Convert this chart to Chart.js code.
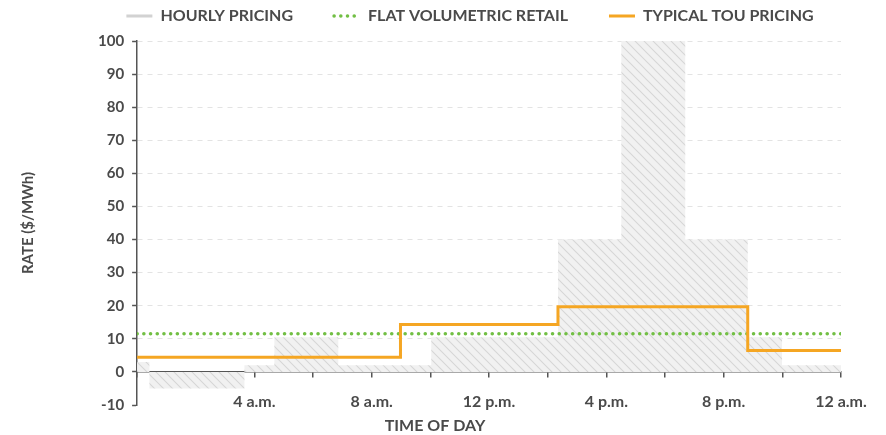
<!DOCTYPE html>
<html>
<head>
<meta charset="utf-8">
<script src="https://cdn.jsdelivr.net/npm/chart.js@4/dist/chart.umd.min.js"></script>
<style>
  html, body { margin: 0; padding: 0; background: #ffffff; }
  #wrap { width: 886px; height: 435px; }
</style>
</head>
<body>
<div id="wrap"><canvas id="c" width="886" height="435"></canvas></div>
<script>
// ---- data ----
const seriesNames = ['HOURLY PRICING', 'FLAT VOLUMETRIC RETAIL', 'TYPICAL TOU PRICING'];
// hourly pricing: each value holds from its start hour until the next start hour
const hourlyStart = [0, 0.42, 3.66, 4.68, 6.86, 10.03, 14.35, 16.51, 18.69, 20.82, 21.99, 24];
const hourlyRate  = [3, -5, 2, 10.5, 2, 10.5, 40, 100, 40, 10.5, 2, 2];
// flat volumetric retail rate
const flatStart = [0, 24];
const flatRate  = [11.5, 11.5];
// typical time-of-use pricing
const touStart = [0, 8.98, 14.35, 20.82, 24];
const touRate  = [4.4, 14.3, 19.7, 6.5, 6.5];
// axis ticks
const xTickHours  = [0, 4, 8, 12, 16, 20, 24];
const xTickLabels = ['', '4 a.m.', '8 a.m.', '12 p.m.', '4 p.m.', '8 p.m.', '12 a.m.'];
const xTitle = 'TIME OF DAY';
const yTitle = 'RATE ($/MWh)';

const FONT = 'Lato';
const TEXT = '#4a4a4a';
const AXIS = '#555555';

const canvas = document.getElementById('c');
const ctx = canvas.getContext('2d');

function makeHatch() {
  const s = 9;
  const c = document.createElement('canvas');
  c.width = s; c.height = s;
  const g = c.getContext('2d');
  g.fillStyle = '#f1f1f1';
  g.fillRect(0, 0, s, s);
  g.strokeStyle = '#d6d6d6';
  g.lineWidth = 1.1;
  g.beginPath();
  g.moveTo(-1, -1); g.lineTo(s + 1, s + 1);
  g.moveTo(-1, s - 1); g.lineTo(1, s + 1);
  g.moveTo(s - 1, -1); g.lineTo(s + 1, 1);
  g.stroke();
  return ctx.createPattern(c, 'repeat');
}

const pts = (xs, ys) => xs.map((x, i) => ({ x: x, y: ys[i] }));

const swatches = [
  { color: '#d2d2d2', width: 3, dash: [], cap: 'butt' },
  { color: '#72bf44', width: 3.5, dash: [0.1, 6.6], cap: 'round' },
  { color: '#f5a623', width: 3, dash: [], cap: 'butt' }
];

// centre the legend and the bottom title where the reference has them
const shiftPlugin = {
  id: 'shiftBoxes',
  afterUpdate(chart) {
    const lg = chart.legend;
    if (lg) {
      const d = 470 - (lg.left + lg.right) / 2;
      lg.left += d; lg.right += d; lg.top -= 33;
    }
    const t = chart.titleBlock;
    if (t) {
      const d = 435 - (t.left + t.right) / 2;
      t.left += d; t.right += d;
    }
  }
};

new Chart(ctx, {
  type: 'line',
  data: {
    datasets: [
      {
        label: seriesNames[0],
        data: pts(hourlyStart, hourlyRate),
        stepped: 'before',
        fill: 'origin',
        backgroundColor: makeHatch(),
        borderColor: 'rgba(0,0,0,0)',
        borderWidth: 1,
        pointRadius: 0,
        order: 3
      },
      {
        label: seriesNames[1],
        data: pts(flatStart, flatRate),
        fill: false,
        borderColor: swatches[1].color,
        borderWidth: 3.5,
        borderDash: [0.1, 6.6],
        borderCapStyle: 'round',
        pointRadius: 0,
        order: 2
      },
      {
        label: seriesNames[2],
        data: pts(touStart, touRate),
        stepped: 'before',
        fill: false,
        borderColor: swatches[2].color,
        borderWidth: 3,
        borderJoinStyle: 'miter',
        pointRadius: 0,
        order: 1
      }
    ]
  },
  options: {
    responsive: false,
    animation: false,
    devicePixelRatio: 1,
    layout: { padding: { left: 0, right: 45, top: 0, bottom: 0 } },
    scales: {
      x: {
        type: 'linear',
        position: { y: -10 },
        min: 0, max: 24,
        afterBuildTicks(scale) { scale.ticks = xTickHours.map(v => ({ value: v })); },
        ticks: {
          autoSkip: false, maxRotation: 0, padding: -12.6,
          color: TEXT,
          font: { family: FONT, size: 16, weight: 'bold' },
          callback(v) { const i = xTickHours.indexOf(v); return i >= 0 ? xTickLabels[i] : ''; }
        },
        grid: { display: false, drawTicks: false },
        border: { display: false }
      },
      x0: {
        type: 'linear',
        position: { y: 0 },
        min: 0, max: 24,
        z: 1,
        ticks: { display: false, stepSize: 2 },
        grid: { display: true, drawOnChartArea: false, drawTicks: true, tickLength: 5, color: AXIS, tickColor: AXIS, lineWidth: 1.5 },
        border: { display: true, color: AXIS, width: 1.5 }
      },
      y: {
        type: 'linear',
        min: -10, max: 100,
        ticks: {
          stepSize: 10, padding: 8, color: TEXT,
          font: { family: FONT, size: 15, weight: 'bold' }
        },
        grid: {
          color: c => (c.tick && c.tick.value > 0) ? '#e3e3e3' : 'rgba(0,0,0,0)',
          tickColor: AXIS, tickLength: 5, lineWidth: 1, tickWidth: 1.5
        },
        border: { display: true, color: AXIS, width: 1.5, dash: [5, 5] },
        title: {
          display: true, text: yTitle, color: TEXT,
          font: { family: FONT, size: 15, weight: 'bold' },
          padding: { top: 19, bottom: 53 }
        }
      }
    },
    plugins: {
      tooltip: { enabled: false },
      legend: {
        position: 'top',
        maxHeight: 41,
        labels: {
          usePointStyle: true,
          pointStyleWidth: 26,
          padding: 41,
          color: TEXT,
          font: { family: FONT, size: 16, weight: 'bold' },
          generateLabels(chart) {
            return chart.data.datasets.map((ds, i) => ({
              text: ds.label,
              fillStyle: 'rgba(0,0,0,0)',
              strokeStyle: swatches[i].color,
              lineWidth: swatches[i].width,
              lineDash: swatches[i].dash,
              lineCap: swatches[i].cap,
              pointStyle: 'line',
              hidden: false,
              datasetIndex: i,
              fontColor: TEXT
            }));
          }
        }
      },
      title: {
        display: true,
        position: 'bottom',
        text: xTitle,
        color: TEXT,
        font: { family: FONT, size: 16, weight: 'bold' },
        padding: { top: 10.8, bottom: 0 }
      }
    }
  },
  plugins: [shiftPlugin]
});
</script>
</body>
</html>
